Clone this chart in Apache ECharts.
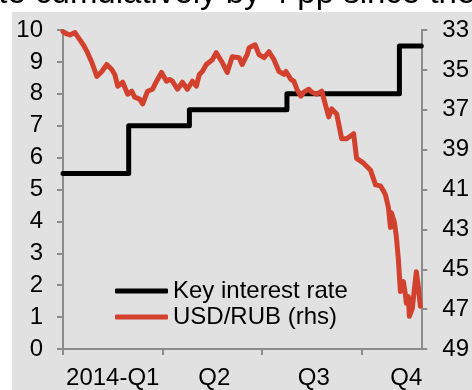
<!DOCTYPE html>
<html>
<head>
<meta charset="utf-8">
<script src="https://cdn.jsdelivr.net/npm/echarts@6/dist/echarts.min.js"></script>
<style>
html,body{margin:0;padding:0;background:#fff;}
#chart{width:472px;height:390px;}
</style>
</head>
<body>
<div id="chart"></div>
<script>
// Time in quarters since 2014-01-01 (0 = start of Q1, 1 = start of Q2, ...)
const rubT = [0.00,0.04,0.07,0.12,0.17,0.21,0.24,0.29,0.34,0.39,0.44,0.49,0.52,0.55,0.60,0.65,0.69,0.72,0.77,0.80,0.85,0.90,0.94,0.99,1.04,1.07,1.10,1.15,1.17,1.20,1.25,1.27,1.30,1.34,1.37,1.40,1.44,1.50,1.54,1.60,1.65,1.67,1.70,1.77,1.80,1.85,1.87,1.93,1.97,2.02,2.04,2.07,2.12,2.14,2.17,2.22,2.24,2.29,2.32,2.35,2.39,2.42,2.47,2.50,2.55,2.60,2.64,2.67,2.70,2.75,2.80,2.85,2.92,2.95,3.02,3.09,3.14,3.19,3.22,3.24,3.27,3.29,3.30,3.33,3.35,3.37,3.39,3.42,3.44,3.45,3.47,3.48,3.51,3.53,3.55,3.57,3.59];
const usdRub = [33.08,33.20,33.25,33.13,33.50,33.79,34.07,34.63,35.33,35.08,34.73,34.98,35.23,35.82,35.62,36.22,36.07,36.37,36.47,36.71,36.07,35.97,35.57,35.13,35.57,35.48,35.57,35.97,35.97,35.62,35.97,35.97,35.57,35.82,35.23,35.08,34.73,34.49,34.14,34.63,35.13,35.13,34.34,34.39,34.73,34.24,33.89,33.74,34.24,34.39,34.49,34.09,34.49,34.39,35.08,35.23,35.08,35.48,35.57,35.97,36.32,36.12,35.97,36.12,36.22,36.07,36.81,37.36,36.96,37.21,38.45,38.45,38.20,39.44,39.68,40.03,40.77,40.82,41.07,41.27,41.91,42.90,42.16,42.65,43.40,44.53,46.12,45.62,46.27,46.71,46.37,47.36,46.96,46.02,45.13,45.87,46.86];

const keyT = [0.00,0.66,1.27,2.25,3.38,3.60];
const keyRate = [5.5,7.0,7.5,8.0,9.5,9.5];

const xTickValues = [0,1,2,3];
const xLabelValues = [0.5,1.52,2.52,3.45];
const xLabelTexts = ['2014-Q1','Q2','Q3','Q4'];
const rightTicks = [33,35,37,39,41,43,45,47,49];

const titleText = 'rate cumulatively by 4 pp since the start of the year';

const FONT = 'Liberation Sans, Arial, sans-serif';
const AXIS_GRAY = '#8c8c8c';

const chart = echarts.init(document.getElementById('chart'), null, {renderer:'canvas'});

const keyData = keyT.map((t,i)=>[t,keyRate[i]]);
const rubData = rubT.map((t,i)=>[t,usdRub[i]]);

chart.setOption({
  animation:false,
  backgroundColor:'#ffffff',
  graphic:[
    {type:'rect', z:-10, silent:true, shape:{x:12,y:12,width:460,height:378}, style:{fill:'#e1e1e1'}},
    {type:'text', z:-5, silent:true, x:-31, y:-6, style:{text:titleText, font:'33px '+FONT, fill:'#000', verticalAlign:'middle', align:'left'}}
  ],
  grid:{left:63,right:50,top:30,bottom:36,containLabel:false},
  legend:{
    orient:'vertical', left:115, top:279, padding:0, itemGap:2,
    itemWidth:53, itemHeight:5, icon:'roundRect',
    textStyle:{fontSize:24, fontFamily:FONT, color:'#000', padding:[0,0,0,0]},
    data:['Key interest rate','USD/RUB (rhs)']
  },
  xAxis:{
    type:'value', min:0, max:3.6,
    axisLine:{show:true, onZero:false, lineStyle:{color:AXIS_GRAY, width:2}},
    axisTick:{show:true, length:6, lineStyle:{color:AXIS_GRAY, width:2}, customValues:xTickValues},
    axisLabel:{show:true, margin:17, fontSize:24, fontFamily:FONT, color:'#000',
      customValues:xLabelValues,
      formatter:function(v){ const i = xLabelValues.findIndex(x=>Math.abs(x-v)<1e-6); return i>=0?xLabelTexts[i]:''; }},
    splitLine:{show:false}
  },
  yAxis:[
    {type:'value', min:0, max:10, interval:1, position:'left',
      axisLine:{show:true, lineStyle:{color:AXIS_GRAY, width:2}},
      axisTick:{show:true, length:6, lineStyle:{color:AXIS_GRAY, width:2}},
      axisLabel:{margin:20, fontSize:24, fontFamily:FONT, color:'#000'},
      splitLine:{show:false}},
    {type:'value', min:33, max:49, inverse:true, position:'right',
      axisLine:{show:true, lineStyle:{color:AXIS_GRAY, width:2}},
      axisTick:{show:true, length:6, lineStyle:{color:AXIS_GRAY, width:2}, customValues:rightTicks},
      axisLabel:{margin:21, fontSize:24, fontFamily:FONT, color:'#000', customValues:rightTicks},
      splitLine:{show:false}}
  ],
  series:[
    {name:'Key interest rate', type:'line', yAxisIndex:0, data:keyData, step:'end',
      showSymbol:false, symbol:'none', color:'#000000',
      lineStyle:{color:'#000000', width:5, cap:'round', join:'round'}, z:2},
    {name:'USD/RUB (rhs)', type:'line', yAxisIndex:1, data:rubData,
      showSymbol:false, symbol:'none', color:'#d2402e',
      lineStyle:{color:'#d2402e', width:5, cap:'round', join:'round'}, z:3}
  ]
});
</script>
</body>
</html>
